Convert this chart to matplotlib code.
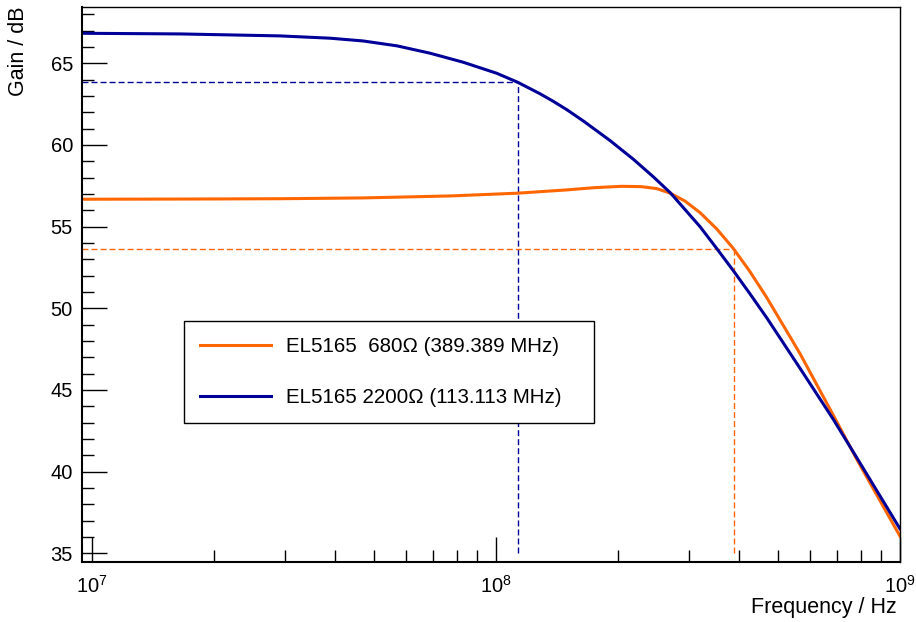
import matplotlib
matplotlib.use("Agg")
import matplotlib.pyplot as plt
from matplotlib.ticker import LogLocator, NullFormatter, MultipleLocator
from matplotlib.lines import Line2D

plt.rcParams["font.family"] = ["Liberation Sans", "DejaVu Sans"]

# frequency response (Hz, dB)
freq_680 = [9.45e6, 1.65e7, 2.92e7, 4.69e7, 7.70e7, 1.132e8, 1.496e8, 1.758e8,
            2.047e8, 2.29e8, 2.50e8, 2.70e8, 2.94e8, 3.20e8, 3.52e8, 3.87e8,
            4.25e8, 4.68e8, 5.65e8, 6.84e8, 7.82e8, 1.0e9]
gain_680 = [56.68, 56.69, 56.71, 56.76, 56.88, 57.05, 57.25, 57.39,
            57.47, 57.45, 57.33, 57.05, 56.56, 55.86, 54.86, 53.66,
            52.26, 50.66, 47.25, 43.45, 40.75, 36.05]

freq_2200 = [9.45e6, 1.652e7, 2.917e7, 3.88e7, 4.69e7, 5.69e7, 6.87e7, 8.29e7,
             1.005e8, 1.132e8, 1.285e8, 1.383e8, 1.496e8, 1.65e8, 1.81e8, 1.914e8,
             2.19e8, 2.45e8, 2.70e8, 3.20e8, 3.52e8, 3.87e8, 4.25e8, 4.68e8,
             5.65e8, 6.84e8, 7.82e8, 1.0e9]
gain_2200 = [66.84, 66.80, 66.68, 66.54, 66.37, 66.07, 65.62, 65.07,
             64.39, 63.84, 63.14, 62.69, 62.17, 61.45, 60.72, 60.28,
             59.12, 58.06, 57.08, 55.00, 53.66, 52.30, 50.90, 49.42,
             46.35, 43.20, 40.85, 36.50]

# -3 dB points
f3db_680, lvl_680 = 389.389e6, 53.66
f3db_2200, lvl_2200 = 113.113e6, 63.84

labels = ["EL5165  680\u03a9 (389.389 MHz)", "EL5165 2200\u03a9 (113.113 MHz)"]
c_orange = "#ff6600"
c_blue = "#000099"

XMIN, XMAX = 9.45e6, 1.0e9
YMIN, YMAX = 34.47, 68.47

fig = plt.figure(figsize=(9.16, 6.22), dpi=100)
ax = fig.add_axes([0.0895, 0.0965, 0.8930, 0.8928])

dash = (0, (4.3, 2.2))
ax.hlines(lvl_2200, XMIN, f3db_2200, colors=c_blue, lw=1.0, linestyles=[dash])
ax.vlines(f3db_2200, 35, lvl_2200, colors=c_blue, lw=1.0, linestyles=[dash])
ax.hlines(lvl_680, XMIN, f3db_680, colors=c_orange, lw=1.0, linestyles=[dash])
ax.vlines(f3db_680, 35, lvl_680, colors=c_orange, lw=1.0, linestyles=[dash])

ax.plot(freq_680, gain_680, color=c_orange, lw=2.2)
ax.plot(freq_2200, gain_2200, color=c_blue, lw=2.2)

ax.set_xscale("log")
ax.set_xlim(XMIN, XMAX)
ax.set_ylim(YMIN, YMAX)

ax.xaxis.set_major_locator(LogLocator(base=10, numticks=10))
ax.xaxis.set_minor_locator(LogLocator(base=10, subs=range(2, 10), numticks=30))
ax.xaxis.set_minor_formatter(NullFormatter())
ax.yaxis.set_major_locator(MultipleLocator(5))
ax.yaxis.set_minor_locator(MultipleLocator(1))

ax.tick_params(which="both", direction="in", top=False, right=False,
               width=1.0, color="black", labelsize=14.5)
ax.tick_params(which="major", length=18)
ax.tick_params(which="minor", length=8.6)
ax.tick_params(axis="y", pad=6.5)
ax.tick_params(axis="x", pad=9)

for side in ["left", "bottom"]:
    ax.spines[side].set_linewidth(1.5)
for side in ["top", "right"]:
    ax.spines[side].set_linewidth(1.0)

handles = [Line2D([], [], color=c_orange, lw=2.2),
           Line2D([], [], color=c_blue, lw=2.2)]
leg = ax.legend(handles, labels, loc="lower left",
                bbox_to_anchor=(0.1247, 0.2503, 0.5012, 0.1999), mode="expand",
                fontsize=14.8, frameon=True, fancybox=False, framealpha=1,
                edgecolor="black", borderpad=0.76, labelspacing=1.58,
                handlelength=3.48, handletextpad=0.74, borderaxespad=0)
leg.get_frame().set_linewidth(1.0)

fig.text(18.5 / 916, 1 - 7 / 622, "Gain / dB", rotation=90, ha="center",
         va="top", fontsize=15.5)
fig.text(897 / 916, 1 - 613 / 622, "Frequency / Hz", ha="right",
         va="baseline", fontsize=15.5)

fig.savefig("out.png", dpi=100)
